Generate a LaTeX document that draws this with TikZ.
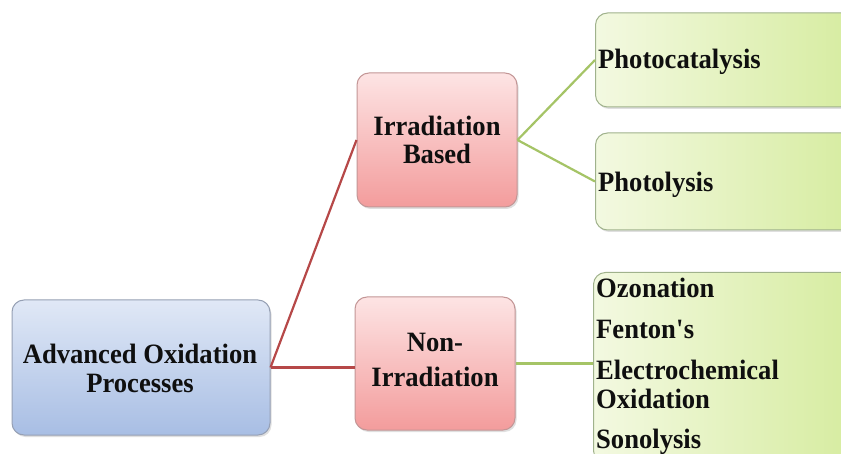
\documentclass[tikz,border=0pt]{standalone}
\usepackage{fontspec}
\setmainfont[FakeStretch=0.95]{Liberation Serif}
\usetikzlibrary{shadows}
\definecolor{bluetop}{RGB}{224,232,246}
\definecolor{bluebot}{RGB}{168,190,228}
\definecolor{blueedge}{RGB}{150,160,180}
\definecolor{redtop}{RGB}{253,228,228}
\definecolor{redbot}{RGB}{243,156,156}
\definecolor{rededge}{RGB}{195,150,150}
\definecolor{greenl}{RGB}{243,249,225}
\definecolor{greenr}{RGB}{212,235,155}
\definecolor{greenedge}{RGB}{160,178,140}
\definecolor{redline}{RGB}{182,72,72}
\definecolor{greenline}{RGB}{165,196,102}
\definecolor{txt}{RGB}{15,15,15}
\begin{document}
\begin{tikzpicture}[x=1pt,y=-1pt,
  box/.style={rounded corners=12pt, draw, line width=1pt, inner sep=0pt,
    drop shadow={opacity=0.25, shadow xshift=1.5pt, shadow yshift=-2pt}},
  bluebox/.style={box, draw=blueedge, top color=bluetop, bottom color=bluebot},
  redbox/.style={box, draw=rededge, top color=redtop, bottom color=redbot},
  greenbox/.style={box, draw=greenedge, left color=greenl, right color=greenr},
  lbl/.style={font=\fontsize{28}{30}\selectfont\bfseries, text=txt, inner sep=0pt, anchor=base},
  glbl/.style={lbl, anchor=base west},
  redconn/.style={draw=redline, line width=2.2pt},
  greenconn/.style={draw=greenline, line width=2.2pt}]
\useasboundingbox (0,0) rectangle (841,454);
\clip (0,0) rectangle (841,454);
\fill[white] (0,0) rectangle (841,454);

% boxes
\node[bluebox, minimum width=258pt, minimum height=135pt] (aop) at (141,367.5) {};
\node[redbox, minimum width=160pt, minimum height=134pt] (ib) at (437,140) {};
\node[redbox, minimum width=160pt, minimum height=133pt] (ni) at (435,363.5) {};
\node[greenbox, minimum width=280pt, minimum height=94pt, anchor=west] (pc) at (595,60) {};
\node[greenbox, minimum width=280pt, minimum height=97pt, anchor=west] (pl) at (595,181.5) {};
\node[greenbox, minimum width=280pt, minimum height=190pt, anchor=north west] (ob) at (593,272) {};

% connectors
\draw[redconn] (aop.east) -- (ib.west);
\draw[redconn] (aop.east) -- (ni.west |- aop.east);
\draw[greenconn] (ib.east) -- (pc.west);
\draw[greenconn] (ib.east) -- (pl.west);
\draw[greenconn] (ni.east) -- (ob.west |- ni.east);

% labels
\node[lbl] (aop1) at (140,363) {Advanced Oxidation};
\node[lbl] (aop2) at (140,392) {Processes};
\node[lbl] (ib1) at (437,136) {Irradiation};
\node[lbl] (ib2) at (437,164) {Based};
\node[lbl] (ni1) at (435,352) {Non-};
\node[lbl] (ni2) at (435,386) {Irradiation};
\node[glbl] (pct) at (598,69) {Photocatalysis};
\node[glbl] (plt) at (598,192) {Photolysis};
\node[glbl] (oz) at (596,298) {Ozonation};
\node[glbl] (fe) at (596,339) {Fenton\textquotesingle s};
\node[glbl] (el) at (596,380) {Electrochemical};
\node[glbl] (ox) at (596,408) {Oxidation};
\node[glbl] (so) at (596,448) {Sonolysis};
\end{tikzpicture}
\end{document}
